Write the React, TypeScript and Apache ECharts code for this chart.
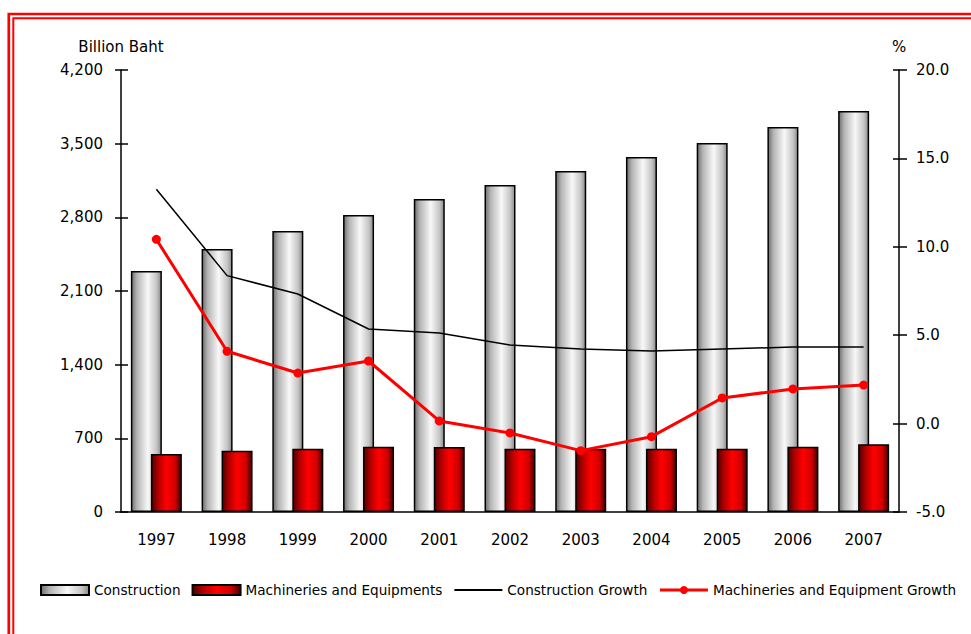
import React, { useEffect, useRef } from "react";
import * as echarts from "echarts";

const years = ["1997", "1998", "1999", "2000", "2001", "2002", "2003", "2004", "2005", "2006", "2007"];
const construction = [2290, 2499, 2670, 2822, 2974, 3107, 3240, 3373, 3506, 3658, 3810];
const machinery = [551, 582, 601, 620, 617, 600, 601, 601, 600, 620, 643];
const constructionGrowth = [13.25, 8.37, 7.33, 5.35, 5.12, 4.45, 4.22, 4.1, 4.22, 4.33, 4.33];
const machineryGrowth = [10.42, 4.09, 2.86, 3.54, 0.15, -0.53, -1.53, -0.74, 1.45, 1.96, 2.18];

const FONT = "DejaVu Sans";

export default function App() {
  const ref = useRef<HTMLDivElement>(null);
  useEffect(() => {
    if (!ref.current) return;
    const chart = echarts.init(ref.current, null, { renderer: "svg" });
    const grayGrad = {
      type: "linear", x: 0, y: 0, x2: 1, y2: 0,
      colorStops: [
        { offset: 0, color: "#6e6e6e" },
        { offset: 0.18, color: "#b4b4b4" },
        { offset: 0.55, color: "#f8f8f8" },
        { offset: 0.85, color: "#c4c4c4" },
        { offset: 1, color: "#8a8a8a" },
      ],
    };
    const redGrad = {
      type: "linear", x: 0, y: 0, x2: 1, y2: 0,
      colorStops: [
        { offset: 0, color: "#500000" },
        { offset: 0.22, color: "#b00000" },
        { offset: 0.5, color: "#ff0000" },
        { offset: 0.8, color: "#d00000" },
        { offset: 1, color: "#400000" },
      ],
    };
    const axisText = { color: "#000", fontFamily: FONT, fontSize: 15 };
    chart.setOption({
      animation: false,
      backgroundColor: "#ffffff",
      textStyle: { fontFamily: FONT },
      graphic: [
        { type: "rect", shape: { x: 8.8, y: 14, width: 1200, height: 1000 }, style: { fill: "none", stroke: "#ff0000", lineWidth: 2.7 }, silent: true },
        { type: "rect", shape: { x: 13.3, y: 18.3, width: 1200, height: 1000 }, style: { fill: "none", stroke: "#ff0000", lineWidth: 2 }, silent: true },
      ],
      grid: { left: 121, right: 72, top: 70, bottom: 122, containLabel: false },
      legend: {
        left: 35,
        top: 578,
        width: 960,
        itemWidth: 48,
        itemHeight: 10,
        itemGap: 11,
        textStyle: { color: "#000", fontFamily: FONT, fontSize: 13.6 },
        data: [
          { name: "Construction", icon: "rect" },
          { name: "Machineries and Equipments", icon: "rect" },
          { name: "Construction Growth" },
          { name: "Machineries and Equipment Growth", lineStyle: { width: 3 } },
        ],
      },
      xAxis: {
        type: "category",
        data: years,
        axisLine: { lineStyle: { color: "#000", width: 1.5 } },
        axisTick: { show: false },
        axisLabel: { ...axisText, margin: 20 },
      },
      yAxis: [
        {
          type: "value",
          position: "left",
          min: 0,
          max: 4200,
          interval: 700,
          name: "Billion Baht",
          nameLocation: "end",
          nameGap: 16,
          nameTextStyle: { ...axisText, align: "center" },
          axisLine: { show: true, lineStyle: { color: "#000", width: 1.5 } },
          axisTick: { show: true, length: 6, lineStyle: { color: "#000", width: 1.5 } },
          axisLabel: { ...axisText, margin: 18, formatter: (v: number) => v.toLocaleString("en-US") },
          splitLine: { show: false },
        },
        {
          type: "value",
          position: "right",
          min: -5,
          max: 20,
          interval: 5,
          name: "%",
          nameLocation: "end",
          nameGap: 16,
          nameTextStyle: { ...axisText, align: "center" },
          axisLine: { show: true, lineStyle: { color: "#000", width: 1.5 } },
          axisTick: { show: true, length: 8, lineStyle: { color: "#000", width: 1.5 } },
          axisLabel: { ...axisText, margin: 17, formatter: (v: number) => v.toFixed(1) },
          splitLine: { show: false },
        },
        {
          type: "value",
          position: "left",
          min: 0,
          max: 4200,
          interval: 700,
          axisLine: { show: false },
          axisTick: { show: true, inside: true, length: 7, lineStyle: { color: "#000", width: 1.5 } },
          axisLabel: { show: false },
          splitLine: { show: false },
        },
        {
          type: "value",
          position: "right",
          min: -5,
          max: 20,
          interval: 5,
          axisLine: { show: false },
          axisTick: { show: true, inside: true, length: 6, lineStyle: { color: "#000", width: 1.5 } },
          axisLabel: { show: false },
          splitLine: { show: false },
        },
      ],
      series: [
        {
          name: "Construction",
          type: "bar",
          yAxisIndex: 0,
          data: construction,
          barWidth: 31,
          barGap: "-35.5%",
          itemStyle: { color: grayGrad, borderColor: "#000", borderWidth: 1.5 },
        },
        {
          name: "Machineries and Equipments",
          type: "bar",
          yAxisIndex: 0,
          data: machinery,
          barWidth: 31,
          barGap: "-35.5%",
          itemStyle: { color: redGrad, borderColor: "#000", borderWidth: 1.5 },
        },
        {
          name: "Construction Growth",
          type: "line",
          yAxisIndex: 1,
          data: constructionGrowth,
          symbol: "none",
          lineStyle: { color: "#000", width: 1.5 },
          itemStyle: { color: "rgba(0,0,0,0)", borderWidth: 0 },
          z: 3,
        },
        {
          name: "Machineries and Equipment Growth",
          type: "line",
          yAxisIndex: 1,
          data: machineryGrowth,
          symbol: "circle",
          symbolSize: 9,
          lineStyle: { color: "#ff0000", width: 3 },
          itemStyle: { color: "#ff0000" },
          z: 4,
        },
      ],
    });
    return () => chart.dispose();
  }, []);
  return (
    <div
      ref={ref}
      style={{ position: "fixed", left: 0, top: 0, width: 971, height: 634, background: "#fff" }}
    />
  );
}
